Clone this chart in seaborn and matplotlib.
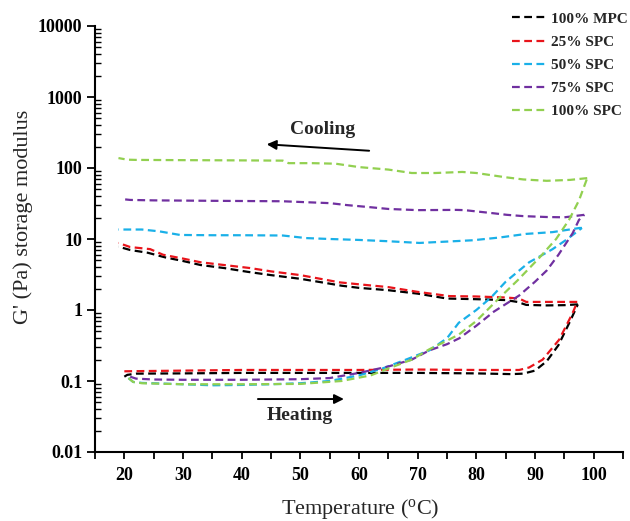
import matplotlib
matplotlib.use("Agg")
import matplotlib.pyplot as plt
import seaborn as sns
import pandas as pd
from matplotlib.lines import Line2D
from matplotlib.ticker import FixedLocator, NullFormatter, LogLocator

# ---------------- data ----------------
samples = ["100% MPC", "25% SPC", "50% SPC", "75% SPC", "100% SPC"]
colors = ["#000000", "#e8141b", "#1ab0e8", "#7030a0", "#92d050"]

mpc_heat_x = [20, 20.5, 22, 30, 40, 50, 60, 70, 80, 86, 88, 90, 92, 94, 96, 97.3]
mpc_heat_y = [0.115, 0.122, 0.127, 0.128, 0.13, 0.13, 0.13, 0.13, 0.128, 0.125, 0.127, 0.14, 0.19, 0.32, 0.7, 1.2]
mpc_cool_x = [97.3, 95, 92, 88.5, 87, 85, 80, 75, 70, 65, 60, 57, 55, 50, 45, 41, 37, 33, 30, 27, 24, 21, 19]
mpc_cool_y = [1.2, 1.17, 1.16, 1.18, 1.3, 1.38, 1.42, 1.45, 1.7, 1.9, 2.05, 2.2, 2.35, 2.75, 3.1, 3.45, 3.9, 4.3, 4.9, 5.5, 6.4, 7.0, 7.8]

s25_heat_x = [20, 30, 40, 50, 60, 70, 80, 87.3, 89, 91.3, 94.1, 96.4, 97.2]
s25_heat_y = [0.137, 0.14, 0.143, 0.143, 0.143, 0.145, 0.143, 0.143, 0.155, 0.2, 0.38, 0.9, 1.3]
s25_cool_x = [97.2, 92, 88.5, 87.3, 85, 80, 75.4, 70, 65, 60, 56.7, 55, 50, 45, 41.4, 37, 33, 30, 26.6, 24.4, 21, 19]
s25_cool_y = [1.3, 1.3, 1.3, 1.45, 1.5, 1.55, 1.57, 1.8, 2.1, 2.3, 2.45, 2.6, 3.1, 3.5, 3.9, 4.3, 4.7, 5.3, 6.0, 7.2, 7.7, 8.8]

s50_heat_x = [20.7, 21.5, 23, 30, 35, 40, 45, 50, 55, 60, 64, 68, 72, 75, 77, 80, 82.5, 85, 89, 91, 93, 95.3, 98]
s50_heat_y = [0.11, 0.097, 0.094, 0.09, 0.087, 0.088, 0.09, 0.093, 0.1, 0.12, 0.15, 0.2, 0.27, 0.4, 0.66, 1.0, 1.5, 2.5, 4.7, 5.8, 7.2, 9.7, 14.3]
s50_cool_x = [98, 97.6, 93, 88.5, 84, 79.4, 75, 70.3, 65, 60, 55, 51, 47, 40, 35, 29.5, 26, 23, 19]
s50_cool_y = [14.3, 14.3, 12.5, 11.8, 10.5, 9.6, 9.2, 8.8, 9.3, 9.7, 10.0, 10.3, 11.2, 11.3, 11.3, 11.4, 12.8, 13.6, 13.6]

s75_heat_x = [21, 22, 25, 30, 40, 50, 55, 60, 65, 69, 72, 75, 77.1, 80, 83, 85.6, 87.3, 90, 92, 94, 96.4, 97.5, 98.4]
s75_heat_y = [0.115, 0.108, 0.105, 0.104, 0.104, 0.106, 0.11, 0.13, 0.16, 0.2, 0.27, 0.33, 0.4, 0.6, 0.95, 1.3, 1.6, 2.5, 3.6, 6, 12, 18.6, 21.9]
s75_cool_x = [98.4, 95, 92, 88, 85.2, 83, 78, 76.6, 70, 65, 62, 58, 55, 47, 35, 25, 21, 19.6]
s75_cool_y = [21.9, 20.2, 20.4, 21, 21.9, 23, 25.5, 25.7, 25.5, 26.5, 28, 30, 32, 34, 34.5, 35, 35.5, 36.5]

s100_heat_x = [20.7, 21.5, 23, 30, 40, 50, 57, 62, 65, 69, 72, 75, 77, 80, 84, 87, 90.7, 93.6, 95.8, 97.5, 98.9]
s100_heat_y = [0.11, 0.097, 0.093, 0.09, 0.09, 0.091, 0.1, 0.12, 0.15, 0.2, 0.28, 0.37, 0.45, 0.7, 1.5, 2.6, 5.4, 10, 18.6, 35, 72]
s100_cool_x = [98.9, 96, 92, 88, 85, 80, 77.6, 73, 69, 65, 60, 56, 52, 48, 47, 40, 30, 22, 20.5, 19]
s100_cool_y = [72, 68, 66, 69, 74, 85, 88, 85, 85, 95, 103, 115, 117, 117, 127, 128, 129, 130, 131, 138]

x_ticks = [20, 30, 40, 50, 60, 70, 80, 90, 100]
y_ticks = [0.01, 0.1, 1, 10, 100, 1000, 10000]
y_tick_labels = ["0.01", "0.1", "1", "10", "100", "1000", "10000"]

curves = {
    "100% MPC": [(mpc_heat_x, mpc_heat_y), (mpc_cool_x, mpc_cool_y)],
    "25% SPC": [(s25_heat_x, s25_heat_y), (s25_cool_x, s25_cool_y)],
    "50% SPC": [(s50_heat_x, s50_heat_y), (s50_cool_x, s50_cool_y)],
    "75% SPC": [(s75_heat_x, s75_heat_y), (s75_cool_x, s75_cool_y)],
    "100% SPC": [(s100_heat_x, s100_heat_y), (s100_cool_x, s100_cool_y)],
}

# ---------------- style ----------------
sns.set_theme(style="ticks")
plt.rcParams["font.family"] = ["Liberation Serif", "DejaVu Serif"]
plt.rcParams["mathtext.fontset"] = "custom"
plt.rcParams["mathtext.rm"] = "Liberation Serif"

fig = plt.figure(figsize=(6.3, 5.21), dpi=100)
ax = fig.add_axes([95 / 630, 1 - 452 / 521, (623 - 95) / 630, (452 - 26) / 521])

for name, col in zip(samples, colors):
    for (xs, ys) in curves[name]:
        df = pd.DataFrame({"T": xs, "G": ys})
        sns.lineplot(data=df, x="T", y="G", color=col, ls=(0, (3.5, 2.0)), lw=1.6,
                     sort=False, estimator=None, ax=ax)

ax.set_yscale("log")
ax.set_xlim(15, 105)
ax.set_ylim(0.01, 10000)
ax.set_xticks(x_ticks)
ax.set_xticklabels([str(v) for v in x_ticks])
ax.xaxis.set_minor_locator(FixedLocator([15, 25, 35, 45, 55, 65, 75, 85, 95, 105]))
ax.set_yticks(y_ticks)
ax.set_yticklabels(y_tick_labels)
ax.yaxis.set_minor_locator(LogLocator(base=10, subs=range(2, 10), numticks=20))
ax.yaxis.set_minor_formatter(NullFormatter())

for lab in ax.get_xticklabels() + ax.get_yticklabels():
    lab.set_fontweight("bold")
    lab.set_fontsize(13)

ax.tick_params(axis="x", which="both", direction="out", length=5, width=1.3, colors="black", pad=6)
ax.tick_params(axis="y", which="major", direction="out", length=6, width=1.3, colors="black", pad=3)
ax.tick_params(axis="y", which="minor", direction="in", length=4, width=1.0, colors="black")

for sp in ["top", "right"]:
    ax.spines[sp].set_visible(False)
for sp in ["left", "bottom"]:
    ax.spines[sp].set_linewidth(1.5)
    ax.spines[sp].set_color("black")

ax.set_xlabel(r"Temperature ($\mathregular{^o}$C)", fontsize=16)
ax.set_ylabel("G' (Pa) storage modulus", fontsize=16)
ax.xaxis.set_label_coords(0.502, -0.105)
ax.yaxis.set_label_coords(-0.117, 0.552)

# annotations
ax.annotate("", xy=(43.8, 217), xytext=(62.2, 174),
            arrowprops=dict(arrowstyle="-|>", color="black", lw=1.4, mutation_scale=14))
ax.text(53.8, 343, "Cooling", fontsize=14, fontweight="bold", ha="center", va="center")
ax.annotate("", xy=(57.9, 0.0557), xytext=(42.3, 0.0557),
            arrowprops=dict(arrowstyle="-|>", color="black", lw=1.4, mutation_scale=14))
ax.text(49.9, 0.033, "Heating", fontsize=14, fontweight="bold", ha="center", va="center")

handles = [Line2D([0], [0], color=c, ls=(0, (3.5, 2.0)), lw=1.6) for c in colors]
leg = fig.legend(handles, samples, loc="upper left", bbox_to_anchor=(512 / 630, 1 - 12 / 521),
                 frameon=False, prop={"family": "Liberation Serif", "weight": "bold", "size": 11},
                 handlelength=2.3, handletextpad=0.25, labelspacing=0.62, borderpad=0,
                 borderaxespad=0)

fig.savefig("out.png", dpi=100)
